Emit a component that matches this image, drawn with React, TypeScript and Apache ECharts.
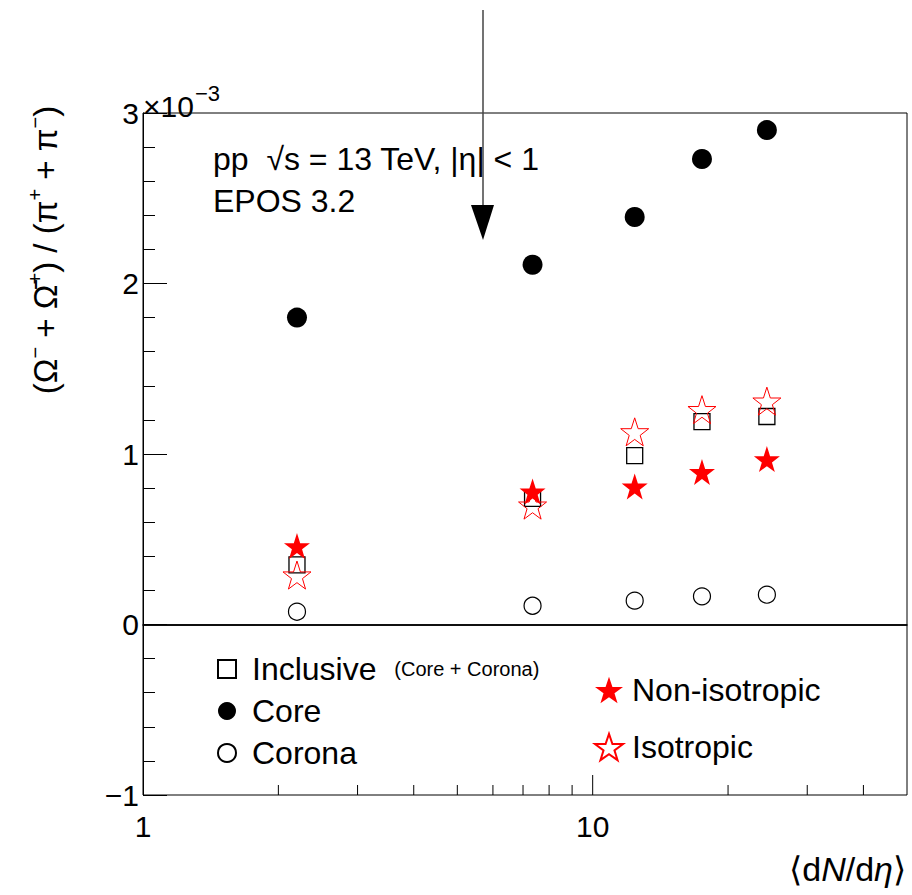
import React, { useEffect, useRef } from "react";
import * as echarts from "echarts";

const xValues = [2.2, 7.35, 12.4, 17.5, 24.4];
const coreValues = [1.8, 2.11, 2.39, 2.73, 2.9];
const inclusiveValues = [0.35, 0.74, 0.99, 1.19, 1.22];
const coronaValues = [0.075, 0.11, 0.14, 0.165, 0.175];
const nonIsoValues = [0.46, 0.78, 0.81, 0.895, 0.97];
const isoValues = [0.29, 0.7, 1.13, 1.26, 1.31];
const xTickValues = [2, 3, 4, 5, 6, 7, 8, 9, 10, 20, 30, 40];
const xMajorTicks = [1, 10];
const xLabels = ["1", "10"];

const FONT = "'Liberation Sans', Arial, Helvetica, sans-serif";
const STAR =
  "path://M50,0 L61.8,35.1 L98.1,35.1 L68.8,56.7 L79.4,90.5 L50,69.8 L20.6,90.5 L31.2,56.7 L1.9,35.1 L38.2,35.1 Z";

const pts = (ys: number[]) => xValues.map((x, i) => [x, ys[i]]);

export default function App() {
  const ref = useRef<HTMLDivElement>(null);
  useEffect(() => {
    if (!ref.current) return;
    const chart = echarts.init(ref.current, null, { renderer: "svg" });
    const option: any = {
      animation: false,
      backgroundColor: "#fff",
      grid: {
        left: 143,
        top: 113,
        width: 764,
        height: 682,
        show: true,
        borderColor: "#000",
        borderWidth: 1,
      },
      xAxis: {
        type: "log",
        logBase: 10,
        min: 1,
        max: 50,
        axisLine: { show: true, lineStyle: { color: "#000", width: 1.5 } },
        axisTick: { show: false },
        minorTick: { show: false },
        splitLine: { show: false },
        axisLabel: {
          fontSize: 30,
          fontFamily: FONT,
          color: "#000",
          margin: 16,
          formatter: (v: number) => {
            const s = String(Math.round(v));
            return xLabels.includes(s) ? s : "";
          },
        },
      },
      yAxis: {
        type: "value",
        min: -1,
        max: 3,
        interval: 1,
        axisLine: { show: true, lineStyle: { color: "#000", width: 1 } },
        axisTick: { show: true, inside: true, length: 24, lineStyle: { color: "#000" } },
        minorTick: { show: true, splitNumber: 5, length: 12, lineStyle: { color: "#000" } },
        splitLine: { show: false },
        axisLabel: {
          fontSize: 30,
          fontFamily: FONT,
          color: "#000",
          margin: 4,
          formatter: (v: number) => (v < 0 ? "\u2212" + Math.abs(v) : String(v)),
        },
      },
      legend: [
        {
          data: ["Inclusive", "Core", "Corona"],
          orient: "vertical",
          left: 212,
          top: 647,
          itemWidth: 18,
          itemHeight: 18,
          itemGap: 8,
          selectedMode: false,
          formatter: (name: string) =>
            name === "Inclusive" ? "{a|Inclusive}  {b|(Core + Corona)}" : "{a|" + name + "}",
          textStyle: {
            fontSize: 32,
            fontFamily: FONT,
            color: "#000",
            lineHeight: 34,
            padding: [0, 0, 0, 11],
            rich: {
              a: { fontSize: 32, fontFamily: FONT, color: "#000", lineHeight: 34 },
              b: { fontSize: 20, fontFamily: FONT, color: "#000", lineHeight: 34 },
            },
          },
        },
        {
          data: ["Non-isotropic", "Isotropic"],
          orient: "vertical",
          left: 589,
          top: 668,
          itemWidth: 28,
          itemHeight: 28,
          itemGap: 23,
          selectedMode: false,
          textStyle: {
            fontSize: 32,
            fontFamily: FONT,
            color: "#000",
            lineHeight: 34,
            padding: [0, 0, 0, 4],
          },
        },
      ],
      series: [
        {
          name: "Inclusive",
          type: "scatter",
          symbol: "rect",
          symbolSize: 16,
          itemStyle: { color: "rgba(255,255,255,0)", borderColor: "#000", borderWidth: 1.3, opacity: 1 },
          data: pts(inclusiveValues),
          z: 3,
        },
        {
          name: "Core",
          type: "scatter",
          symbol: "circle",
          symbolSize: 20,
          itemStyle: { color: "#000", opacity: 1 },
          data: pts(coreValues),
          z: 3,
          markLine: {
            silent: true,
            symbol: "none",
            label: { show: false },
            lineStyle: { color: "#000", width: 1.5, type: "solid", opacity: 1 },
            data: [{ yAxis: 0 }],
          },
        },
        {
          name: "Corona",
          type: "scatter",
          symbol: "circle",
          symbolSize: 17,
          itemStyle: { color: "rgba(255,255,255,0)", borderColor: "#000", borderWidth: 1.2, opacity: 1 },
          data: pts(coronaValues),
          z: 3,
        },
        {
          name: "Non-isotropic",
          type: "scatter",
          symbol: STAR,
          symbolSize: 26,
          itemStyle: { color: "#ff0000", opacity: 1 },
          data: pts(nonIsoValues),
          z: 4,
        },
        {
          name: "Isotropic",
          type: "scatter",
          symbol: STAR,
          symbolSize: 28,
          itemStyle: { color: "rgba(255,255,255,0)", borderColor: "#ff0000", borderWidth: 1, opacity: 1 },
          data: pts(isoValues),
          z: 5,
        },
        {
          name: "xticks",
          type: "custom",
          silent: true,
          data: xTickValues.map((v) => [v, -1]),
          renderItem: (params: any, api: any) => {
            const v = api.value(0);
            const p = api.coord([v, -1]);
            const major = xMajorTicks.includes(v);
            return {
              type: "line",
              shape: { x1: p[0], y1: p[1], x2: p[0], y2: p[1] - (major ? 20 : 10) },
              style: { stroke: "#000", lineWidth: 1 },
            };
          },
          z: 2,
        },
      ],
      graphic: [
        {
          type: "text",
          left: 143,
          top: 91,
          style: { text: "\u00d710", fontSize: 30, fontFamily: FONT, fill: "#000" },
        },
        {
          type: "text",
          left: 195,
          top: 82,
          style: { text: "\u22123", fontSize: 22, fontFamily: FONT, fill: "#000" },
        },
        {
          type: "text",
          left: 213,
          top: 143,
          style: { text: "pp  \u221as = 13 TeV, |\u03b7| < 1", fontSize: 32, fontFamily: FONT, fill: "#000" },
        },
        {
          type: "text",
          left: 213,
          top: 185,
          style: { text: "EPOS 3.2", fontSize: 32, fontFamily: FONT, fill: "#000" },
        },
        {
          type: "text",
          x: 45,
          y: 250,
          rotation: Math.PI / 2,
          style: {
            text: "{n|(\u03a9}{s|\u2212}{n| + \u03a9\u0304}{s|+}{n|) / (\u03c0}{s|+}{n| + \u03c0}{s|\u2212}{n|)}",
            align: "center",
            verticalAlign: "middle",
            rich: {
              n: { fontSize: 33, fontFamily: FONT, fill: "#000", lineHeight: 40 },
              s: { fontSize: 20, fontFamily: FONT, fill: "#000", verticalAlign: "top", lineHeight: 40 },
            },
          },
        },
        {
          type: "text",
          x: 906,
          y: 869,
          style: {
            text: "{n|\u27e8d}{i|N}{n|/d}{i|\u03b7}{n|\u27e9}",
            align: "right",
            verticalAlign: "middle",
            rich: {
              n: { fontSize: 34, fontFamily: FONT, fill: "#000" },
              i: { fontSize: 34, fontFamily: FONT, fontStyle: "italic", fill: "#000" },
            },
          },
        },
        {
          type: "line",
          shape: { x1: 483, y1: 10, x2: 483, y2: 210 },
          style: { stroke: "#444", lineWidth: 1.5 },
        },
        {
          type: "polygon",
          shape: { points: [[471, 205], [494, 205], [483, 240]] },
          style: { fill: "#000" },
        },
      ],
    };
    chart.setOption(option);
    return () => chart.dispose();
  }, []);
  return (
    <div
      ref={ref}
      style={{ position: "fixed", left: 0, top: 0, width: 912, height: 895, background: "#fff" }}
    />
  );
}
